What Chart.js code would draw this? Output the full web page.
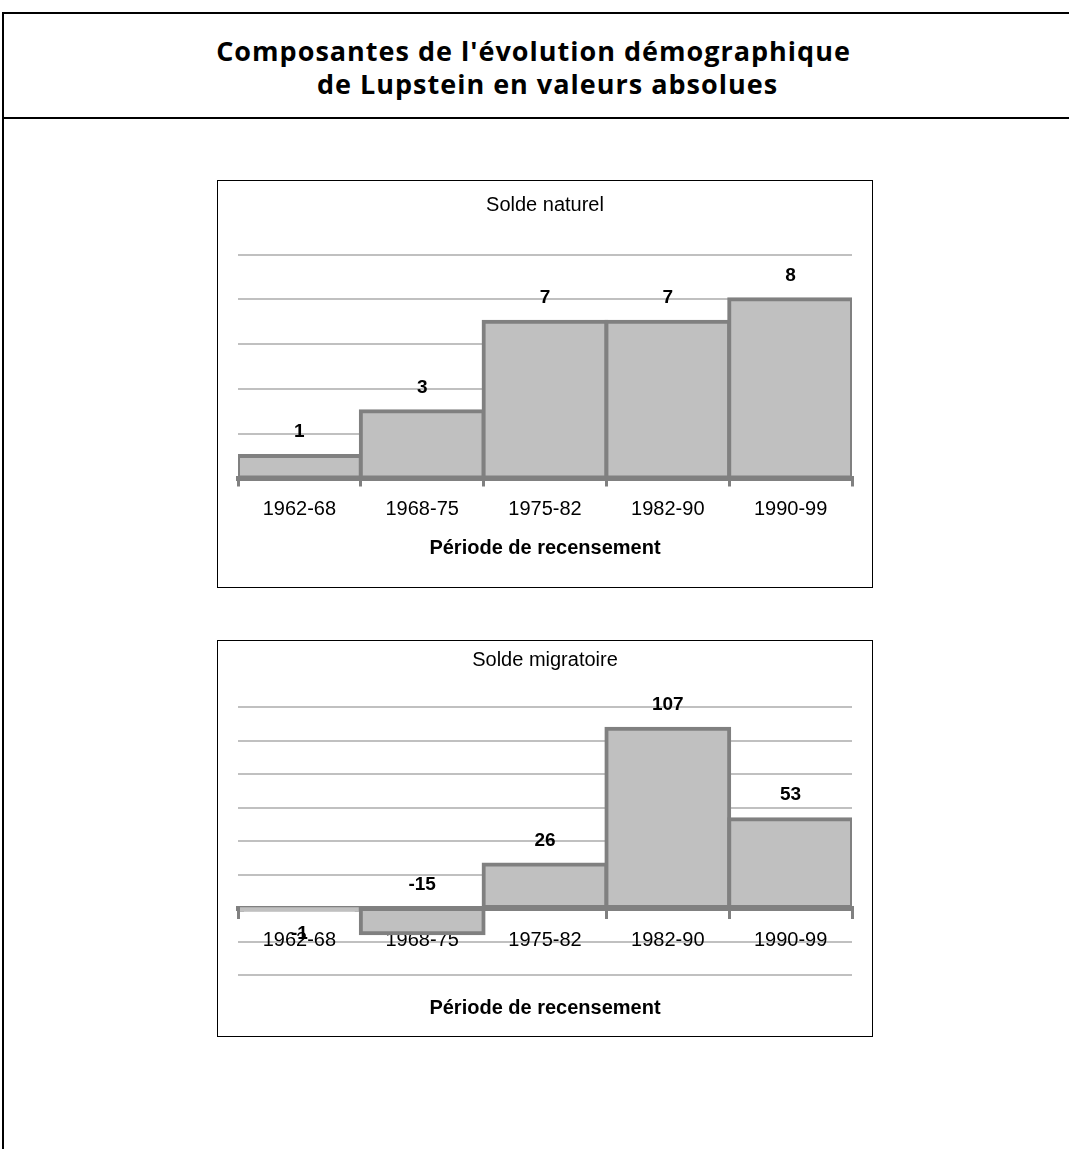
<!DOCTYPE html>
<html lang="fr">
<head>
<meta charset="utf-8">
<title>Composantes de l'évolution démographique de Lupstein</title>
<script src="https://cdn.jsdelivr.net/npm/chart.js@4.4.1/dist/chart.umd.min.js"></script>
<style>
  html, body { margin: 0; padding: 0; background: #fff; }
  body { width: 1069px; height: 1149px; position: relative; overflow: hidden; }
  .frame { position: absolute; left: 2px; top: 12px; width: 1200px; height: 1300px;
           border-left: 2px solid #000; border-top: 2px solid #000; }
  .rule { position: absolute; left: 2px; top: 117px; width: 1200px; height: 2px; background: #000; }
  .head { position: absolute; width: 1069px; text-align: center; color: #000;
          font-family: "Open Sans", sans-serif; font-weight: 700; font-size: 27px;
          letter-spacing: 1px; line-height: 33px; }
  .box { position: absolute; left: 217px; width: 654px; border: 1px solid #000; background: #fff; }
  .box canvas { display: block; }
</style>
</head>
<body>
<div class="frame"></div>
<div class="rule"></div>
<div class="head" style="left:-1px; top:34px;">Composantes de l'évolution démographique</div>
<div class="head" style="left:13px; top:67px;">de Lupstein en valeurs absolues</div>

<div class="box" style="top:180px; height:406px;"><canvas id="naturel" width="654" height="406"></canvas></div>
<div class="box" style="top:640px; height:395px;"><canvas id="migratoire" width="654" height="395"></canvas></div>

<script>
// Census periods and the two components of population change
const periodes = ['1962-68', '1968-75', '1975-82', '1982-90', '1990-99'];
const soldeNaturel = [1, 3, 7, 7, 8];
const soldeMigratoire = [-1, -15, 26, 107, 53];

// Value-axis ranges (no tick labels are drawn, only gridlines)
const bornesNaturel = { min: 0, max: 10, step: 2 };
const bornesMigratoire = { min: -40, max: 120, step: 20 };

const FAMILY = '"Liberation Sans", Arial, sans-serif';
Chart.defaults.font.family = FAMILY;
Chart.defaults.color = '#000';

// Writes each bar's value above (or below) it
const valueLabels = {
  id: 'valueLabels',
  afterDatasetsDraw(chart, args, opts) {
    const { ctx } = chart;
    const meta = chart.getDatasetMeta(0);
    const values = chart.data.datasets[0].data;
    const anchors = opts.anchors || [];
    ctx.save();
    ctx.font = 'bold 19px ' + FAMILY;
    ctx.fillStyle = '#000';
    ctx.textAlign = 'center';
    ctx.textBaseline = 'middle';
    meta.data.forEach((bar, i) => {
      const v = values[i];
      let y;
      if (anchors[i] === 'base') y = bar.base - opts.offset;
      else y = v >= 0 ? bar.y - opts.offset : bar.y + opts.offset;
      ctx.fillText(String(v), bar.x, y);
    });
    ctx.restore();
  }
};

function barDataset(values) {
  return {
    data: values,
    backgroundColor: '#c0c0c0',
    borderColor: '#808080',
    borderWidth: 4,
    borderSkipped: false,
    inflateAmount: 2,
    barPercentage: 1,
    categoryPercentage: 1
  };
}

function makeChart(id, title, values, bornes, cfg) {
  return new Chart(document.getElementById(id), {
    type: 'bar',
    data: { labels: periodes, datasets: [barDataset(values)] },
    plugins: [valueLabels],
    options: {
      responsive: false,
      animation: false,
      layout: { padding: { left: 20, right: 20, top: 0, bottom: cfg.padBottom } },
      plugins: {
        legend: { display: false },
        tooltip: { enabled: false },
        title: {
          display: true, text: title, color: '#000',
          font: { size: 20, weight: 'normal' },
          padding: cfg.titlePad
        },
        valueLabels: { offset: 24, anchors: cfg.anchors }
      },
      scales: {
        x: {
          position: cfg.xPosition,
          grid: { display: true, drawOnChartArea: false, drawTicks: true, tickLength: 8,
                  color: '#808080', lineWidth: 3, offset: true },
          border: { display: true, color: '#808080', width: 5 },
          ticks: { color: '#000', font: { size: 20 }, padding: cfg.tickPad },
          title: { display: true, text: 'Période de recensement', color: '#000',
                   font: { size: 20, weight: 'bold' }, padding: cfg.axisTitlePad }
        },
        y: {
          min: bornes.min, max: bornes.max,
          ticks: { display: false, stepSize: bornes.step },
          grid: { drawTicks: false, lineWidth: 2,
                  color: (c) => (c.tick && c.tick.value === 0) ? 'rgba(0,0,0,0)' : '#c0c0c0' },
          border: { display: false }
        }
      }
    }
  });
}

makeChart('naturel', 'Solde naturel', soldeNaturel, bornesNaturel, {
  padBottom: 0,
  titlePad: { top: 12, bottom: 37.5 },
  xPosition: 'bottom',
  tickPad: 10.5,
  axisTitlePad: { top: 4.9, bottom: 26.6 },
  anchors: []
});

makeChart('migratoire', 'Solde migratoire', soldeMigratoire, bornesMigratoire, {
  padBottom: 61,
  titlePad: { top: 7, bottom: 35 },
  xPosition: { y: 0 },
  tickPad: 12,
  axisTitlePad: { top: 32, bottom: 0 },
  anchors: ['end', 'base', 'end', 'end', 'end']
});
</script>
</body>
</html>
